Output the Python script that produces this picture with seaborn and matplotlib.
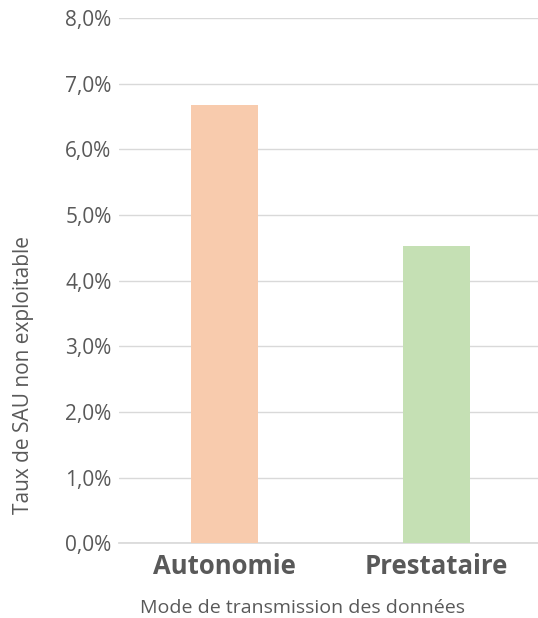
import matplotlib
matplotlib.use("Agg")
import matplotlib.pyplot as plt
import seaborn as sns
import pandas as pd
from matplotlib.ticker import FuncFormatter

# data
modes = ["Autonomie", "Prestataire"]
taux = [0.0668, 0.0453]
bar_colors = ["#F8CBAD", "#C5E0B4"]
y_ticks = [0.0, 0.01, 0.02, 0.03, 0.04, 0.05, 0.06, 0.07, 0.08]

df = pd.DataFrame({"mode": modes, "taux": taux})

sns.set_theme(style="white")
plt.rcParams["font.family"] = ["Open Sans", "DejaVu Sans"]

fig = plt.figure(figsize=(5.38, 6.18), dpi=100)
# plot area runs off the right edge a little, like the original
ax = fig.add_axes([0.2203, 0.121, 0.788, 0.85])

sns.barplot(data=df, x="mode", y="taux", hue="mode", palette=bar_colors,
            saturation=1, width=0.316, linewidth=0, legend=False, ax=ax, zorder=3)

ax.set_ylim(0, 0.08)
ax.set_yticks(y_ticks)
ax.yaxis.set_major_formatter(FuncFormatter(lambda v, p: f"{v*100:.1f}%".replace(".", ",")))
ax.grid(axis="y", color="#D9D9D9", linewidth=1, zorder=0)
for s in ["top", "right", "left"]:
    ax.spines[s].set_visible(False)
ax.spines["bottom"].set_color("#D9D9D9")

ax.tick_params(axis="y", labelsize=15, colors="#595959", length=0, pad=5)
ax.tick_params(axis="x", labelsize=18.5, colors="#595959", length=0, pad=7)
for lab in ax.get_xticklabels():
    lab.set_fontweight("bold")

ax.set_xlabel("Mode de transmission des données", fontsize=14, color="#595959")
ax.set_ylabel("Taux de SAU non exploitable", fontsize=15, color="#595959")
# axis titles sit off-centre in the original
ax.xaxis.set_label_coords(0.434, -0.107)
ax.yaxis.set_label_coords(-0.2, 0.32)

fig.savefig("out.png", dpi=100)
